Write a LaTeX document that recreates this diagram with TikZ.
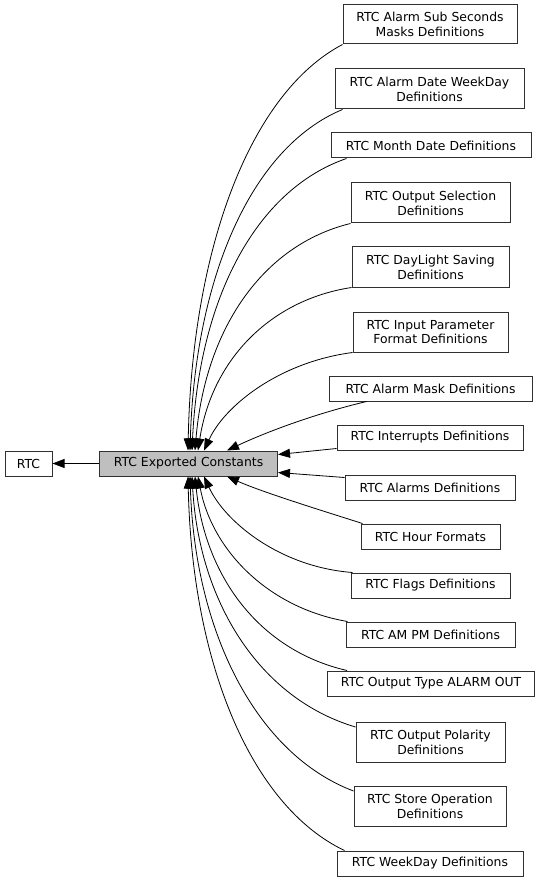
\documentclass[tikz,border=0pt]{standalone}
\usepackage{fontspec}
\setmainfont{DejaVu Sans}
\usetikzlibrary{arrows.meta,calc}
\definecolor{bordergray}{RGB}{48,48,48}
\definecolor{fillgray}{RGB}{191,191,191}
\tikzset{
  box/.style={draw=bordergray, line width=1pt, fill=white, inner sep=0pt, align=center,
    font=\fontsize{12.4}{14.8}\selectfont},
  cur/.style={draw=bordergray, fill=fillgray},
  edge/.style={line width=0.8pt, draw=black, -{Triangle[length=12pt,width=9pt]}},
}
\begin{document}
\begin{tikzpicture}[x=1pt,y=-1pt]
\useasboundingbox (0,0) rectangle (541,882);

\node[box, minimum width=47, minimum height=25] (rtc) at (28.5,463.5) {RTC};
\node[box, cur, minimum width=178, minimum height=25] (ec) at (188.5,463.5) {RTC Exported Constants};

\node[box, minimum width=174, minimum height=39] (n1) at (430,24.5) {RTC Alarm Sub Seconds\\Masks Definitions};
\node[box, minimum width=189, minimum height=40] (n2) at (429.5,89) {RTC Alarm Date WeekDay\\Definitions};
\node[box, minimum width=200, minimum height=25] (n3) at (431,145.5) {RTC Month Date Definitions};
\node[box, minimum width=159, minimum height=40] (n4) at (430.5,203) {RTC Output Selection\\Definitions};
\node[box, minimum width=157, minimum height=40] (n5) at (430.5,267) {RTC DayLight Saving\\Definitions};
\node[box, minimum width=155, minimum height=40] (n6) at (430.5,332) {RTC Input Parameter\\Format Definitions};
\node[box, minimum width=203, minimum height=25] (n7) at (430.5,388.5) {RTC Alarm Mask Definitions};
\node[box, minimum width=186, minimum height=25] (n8) at (430,437.5) {RTC Interrupts Definitions};
\node[box, minimum width=170, minimum height=25] (n9) at (430,487.5) {RTC Alarms Definitions};
\node[box, minimum width=139, minimum height=25] (n10) at (430.5,536.5) {RTC Hour Formats};
\node[box, minimum width=159, minimum height=25] (n11) at (430.5,585.5) {RTC Flags Definitions};
\node[box, minimum width=169, minimum height=25] (n12) at (430.5,634.5) {RTC AM PM Definitions};
\node[box, minimum width=207, minimum height=25] (n13) at (431,683.5) {RTC Output Type ALARM OUT};
\node[box, minimum width=149, minimum height=40] (n14) at (430.5,742.5) {RTC Output Polarity\\Definitions};
\node[box, minimum width=152, minimum height=40] (n15) at (430,806.5) {RTC Store Operation\\Definitions};
\node[box, minimum width=186, minimum height=25] (n16) at (430,863.5) {RTC WeekDay Definitions};

\draw[edge] (ec.west) -- (rtc.east);

% top group
\draw[edge] (n1.south west) .. controls (250.6,92.8) and (192,247.5) .. ($(ec.north west)+(89,0)$);
\draw[edge] ($(n2.south west)+(8,0)$) .. controls (250,148) and (195,280) .. ($(ec.north west)+(91,0)$);
\draw[edge] ($(n3.south west)+(16,0)$) .. controls (255,190) and (199,300) .. ($(ec.north west)+(93,0)$);
\draw[edge] (n4.south west) .. controls (262,245) and (205,330) .. ($(ec.north west)+(96,0)$);
\draw[edge] (n5.south west) .. controls (270,300) and (212,360) .. ($(ec.north west)+(99,0)$);
\draw[edge] (n6.south west) .. controls (280,362) and (225,405) .. ($(ec.north west)+(105,0)$);
\draw[edge] ($(n7.south west)+(38,0)$) .. controls (310,415) and (262,434) .. ($(ec.north west)+(128,0)$);
\draw[edge] ($(n8.south west)+(0,-2)$) -- ($(ec.north east)+(0,4)$);
\draw[edge] ($(n9.north west)+(0,3)$) -- ($(ec.south east)+(0,-4)$);
% bottom group
\draw[edge] ($(n10.north west)+(2,0)$) .. controls (320,510) and (262,492) .. ($(ec.south west)+(128,0)$);
\draw[edge] ($(n11.north west)+(2,0)$) .. controls (280,567) and (225,522) .. ($(ec.south west)+(105,0)$);
\draw[edge] ($(n12.north west)+(2,0)$) .. controls (268,608) and (212,550) .. ($(ec.south west)+(99,0)$);
\draw[edge] ($(n13.north west)+(20,0)$) .. controls (258,650) and (205,575) .. ($(ec.south west)+(96,0)$);
\draw[edge] ($(n14.north west)+(0,5)$) .. controls (258,698) and (199,600) .. ($(ec.south west)+(93,0)$);
\draw[edge] ($(n15.north west)+(0,5)$) .. controls (256,754) and (195,632) .. ($(ec.south west)+(91,0)$);
\draw[edge] ($(n16.north west)+(8,0)$) .. controls (251,806) and (192,663) .. ($(ec.south west)+(89,0)$);
\end{tikzpicture}
\end{document}
